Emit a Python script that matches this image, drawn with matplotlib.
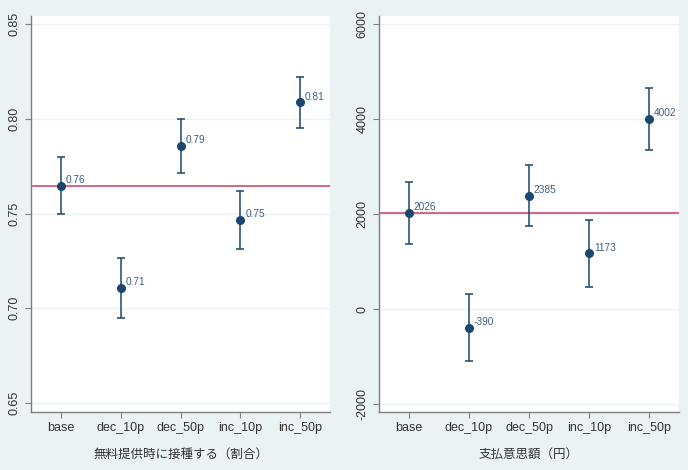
import matplotlib
matplotlib.use("Agg")
import matplotlib.pyplot as plt

categories = ["base", "dec_10p", "dec_50p", "inc_10p", "inc_50p"]

share_mean = [0.7647, 0.7107, 0.7856, 0.7468, 0.8086]
share_lo = [0.7500, 0.6950, 0.7713, 0.7315, 0.7950]
share_hi = [0.7797, 0.7265, 0.7999, 0.7620, 0.8222]
share_ref = 0.7647
share_ticks = [0.65, 0.70, 0.75, 0.80, 0.85]
share_label = "無料提供時に接種する（割合）"

wtp_mean = [2026, -390, 2385, 1173, 4002]
wtp_lo = [1368, -1095, 1747, 470, 3347]
wtp_hi = [2680, 309, 3032, 1874, 4646]
wtp_ref = 2026
wtp_ticks = [-2000, 0, 2000, 4000, 6000]
wtp_label = "支払意思額（円）"

BG = "#EAF2F3"
NAVY = "#1a476f"
LBL = "#3d5f80"
RED = "#d24a6c"
TXT = "#333333"
FAM = ["Liberation Sans", "Noto Sans CJK JP", "DejaVu Sans"]
plt.rcParams["font.family"] = FAM

fig = plt.figure(figsize=(6.88, 4.70), dpi=100, facecolor=BG)

def panel(rect, means, lo, hi, ref, ticks, ylim, fmt, xlabel):
    ax = fig.add_axes(rect)
    ax.set_facecolor("white")
    x = list(range(1, len(categories) + 1))
    yerr = [[m - l for m, l in zip(means, lo)], [h - m for m, h in zip(means, hi)]]
    ax.set_axisbelow(True)
    ax.yaxis.grid(True, color=BG, lw=1.0)
    ax.axhline(ref, color=RED, lw=1.2, zorder=2)
    ax.errorbar(x, means, yerr=yerr, fmt="o", color=NAVY, ecolor=NAVY,
                elinewidth=1.1, capsize=3.0, capthick=1.1, markersize=5.5, zorder=3)
    for xi, m in zip(x, means):
        ax.annotate(fmt(m), (xi, m), xytext=(3.5, 4), textcoords="offset points",
                    ha="left", va="center", fontsize=7.3, color=LBL)
    ax.set_xlim(0.5, 5.5)
    ax.set_ylim(*ylim)
    ax.set_xticks(x)
    ax.set_xticklabels(categories)
    ax.set_yticks(ticks)
    ax.set_yticklabels([fmt(t) if isinstance(t, int) else f"{t:.2f}" for t in ticks],
                       rotation=90, va="center")
    for s in ["top", "right"]:
        ax.spines[s].set_visible(False)
    for s in ["left", "bottom"]:
        ax.spines[s].set_color("#7f7f7f")
        ax.spines[s].set_linewidth(1.0)
    ax.tick_params(axis="both", colors="#7f7f7f", labelcolor=TXT, labelsize=9,
                   length=4, width=0.8, direction="out")
    ax.set_xlabel(xlabel, fontsize=9, color=TXT, labelpad=10)
    return ax

panel([31/688, 1 - 412/470, 299/688, 396/470], share_mean, share_lo, share_hi,
      share_ref, share_ticks, (0.6453, 0.8542), lambda v: f"{v:.2f}", share_label)
panel([379/688, 1 - 412/470, 300/688, 396/470], wtp_mean, wtp_lo, wtp_hi,
      wtp_ref, wtp_ticks, (-2168, 6168), lambda v: f"{int(round(v))}", wtp_label)

fig.savefig("out.png", dpi=100, facecolor=BG)
